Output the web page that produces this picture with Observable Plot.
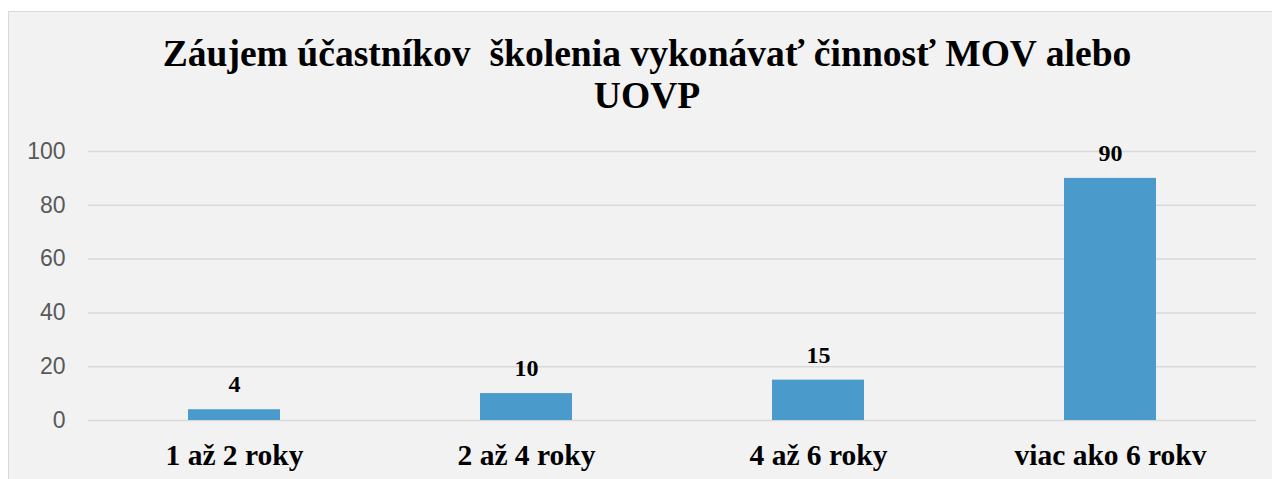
<!DOCTYPE html>
<html>
<head>
<meta charset="utf-8">
<script src="https://cdn.jsdelivr.net/npm/d3@7"></script>
<script src="https://cdn.jsdelivr.net/npm/@observablehq/plot@0.6"></script>
<style>
  html, body { margin: 0; padding: 0; background: #ffffff; overflow: hidden; width: 1272px; height: 479px; }
  #box { position: absolute; left: 8px; top: 11px; width: 1290px; height: 520px; background: #f2f2f2; border: 1px solid #d9d9d9; box-sizing: border-box; }
  #title { position: absolute; left: 0; top: 0; width: 1276px; text-align: center; font-family: "Liberation Serif", "Times New Roman", serif; font-weight: bold; font-size: 37.6px; line-height: 42px; color: #000; padding-top: 21px; white-space: pre; }
  #chart { position: absolute; left: 0; top: 119px; }
</style>
</head>
<body>
<div id="box">
  <div id="title">Záujem účastníkov  školenia vykonávať činnosť MOV alebo
UOVP</div>
  <div id="chart"></div>
</div>
<script>
const categories = ["1 až 2 roky", "2 až 4 roky", "4 až 6 roky", "viac ako 6 rokv"];
const values = [4, 10, 15, 90];
const yTicks = [0, 20, 40, 60, 80, 100];

const data = categories.map((c, i) => ({ category: c, value: values[i] }));

const chart = Plot.plot({
  width: 1263,
  height: 349,
  marginLeft: 79,
  marginRight: 16,
  marginTop: 20,
  marginBottom: 60,
  style: { background: "transparent", overflow: "visible" },
  x: { domain: categories, paddingInner: 0.685, paddingOuter: 0.3425 },
  y: { domain: [0, 100] },
  marks: [
    Plot.ruleY(yTicks, { stroke: "#d9d9d9", strokeWidth: 1.5 }),
    Plot.barY(data, { x: "category", y: "value", fill: "#4a9bcb" }),
    Plot.text(data, {
      x: "category", y: "value", text: d => String(d.value), dy: -25,
      fontFamily: "Liberation Serif, Times New Roman, serif", fontWeight: "bold", fontSize: 24, fill: "#000"
    }),
    Plot.axisY({
      ticks: yTicks, tickSize: 0, tickPadding: 23, label: null,
      fontFamily: "Liberation Sans, Arial, sans-serif", fontSize: 23, fill: "#595959"
    }),
    Plot.axisX({
      tickSize: 0, tickPadding: 24, label: null,
      fontFamily: "Liberation Serif, Times New Roman, serif", fontWeight: "bold", fontSize: 29.5, fill: "#000"
    })
  ]
});
document.getElementById("chart").appendChild(chart);
</script>
</body>
</html>
